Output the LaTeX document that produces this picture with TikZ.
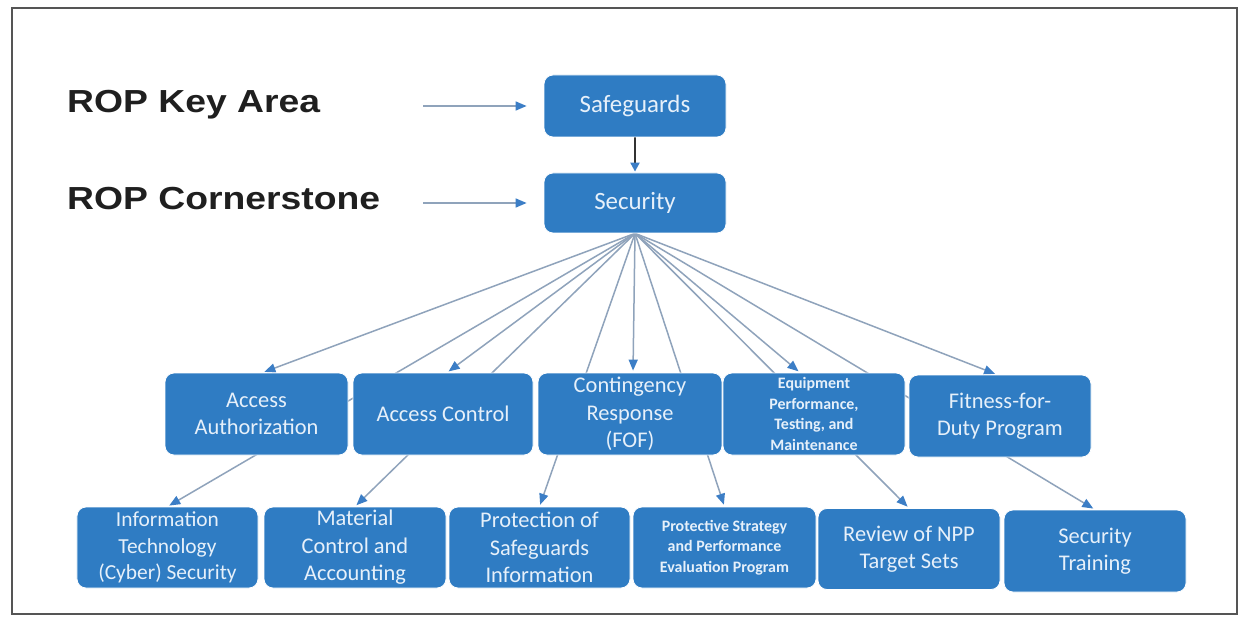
\documentclass[tikz,border=0pt]{standalone}
\usepackage{fontspec}
\usepackage{graphicx}
\usetikzlibrary{arrows.meta}
\newfontfamily\carlito{Carlito}
\newfontfamily\ropfont{Liberation Sans}
\definecolor{boxblue}{HTML}{2F7CC3}
\definecolor{boxtext}{HTML}{E6F0FA}
\definecolor{linkgrey}{HTML}{8FA3BB}
\definecolor{headblue}{HTML}{3C7EC6}
\definecolor{framegrey}{HTML}{555555}
\pgfdeclarelayer{background}
\pgfdeclarelayer{paper}
\pgfsetlayers{paper,background,main}
\tikzset{
  box/.style 2 args={rectangle, rounded corners=9bp, fill=boxblue, draw=white,
    line width=0.8bp, text=boxtext, align=center, inner sep=0pt,
    minimum width=#1, minimum height=#2,
    font=\carlito\fontsize{22.5}{27.5}\selectfont},
  smalltext/.style={font=\carlito\bfseries\fontsize{16}{20.5}\selectfont},
  toptext/.style={font=\carlito\fontsize{25}{30}\selectfont},
  roplabel/.style={anchor=base west, inner sep=0pt, text=black!88,
    font=\ropfont\bfseries\fontsize{32}{36}\selectfont},
  link/.style={draw=linkgrey, line width=1.5bp, shorten >=2bp,
    -{Triangle[length=11bp, width=9bp, color=headblue]}},
}
\begin{document}
\begin{tikzpicture}[x=1bp, y=-1bp]
  \begin{pgfonlayer}{paper}
    \fill[white] (0,0) rectangle (1239,617);
  \end{pgfonlayer}
  \useasboundingbox (0,0) rectangle (1239,617);
  \draw[framegrey, line width=1.5bp] (12,8) rectangle (1237,614);

  % key area and cornerstone
  \node[box={182bp}{62bp}, toptext] (safe) at (635,106) {Safeguards};
  \node[box={182bp}{60bp}, toptext] (sec) at (635,203) {Security};

  \node[roplabel] (lkey) at (67,113) {\scalebox{1.17}[1]{ROP Key Area}};
  \node[roplabel] (lcorner) at (67,210) {\scalebox{1.17}[1]{ROP Cornerstone}};
  \coordinate (kstart) at (423,106);
  \coordinate (cstart) at (423,203);

  % key areas, first row
  \node[box={183bp}{82bp}] (aa) at (256.5,414) {Access\\Authorization};
  \node[box={180bp}{82bp}] (ac) at (443,414) {Access Control};
  \node[box={184bp}{82bp}] (cr) at (630,414) {Contingency\\Response\\(FOF)};
  \node[box={182bp}{82bp}, smalltext] (ep) at (814,414) {Equipment\\Performance,\\Testing, and\\Maintenance};
  \node[box={182bp}{82bp}] (ff) at (1000,416) {Fitness-for-\\Duty Program};

  % key areas, second row
  \node[box={181bp}{81bp}, font=\carlito\fontsize{21.5}{26.5}\selectfont] (it) at (167.5,547.5) {Information\\Technology\\(Cyber) Security};
  \node[box={182bp}{81bp}] (mc) at (355,547.5) {Material\\Control and\\Accounting};
  \node[box={181bp}{81bp}] (ps) at (539.5,547.5) {Protection of\\Safeguards\\Information};
  \node[box={183bp}{81bp}, smalltext] (pse) at (724.5,547.5) {Protective Strategy\\and Performance\\Evaluation Program};
  \node[box={182bp}{81bp}] (rv) at (909,549) {Review of NPP\\Target Sets};
  \node[box={182bp}{82bp}] (st) at (1095,551) {Security\\Training};

  \begin{pgfonlayer}{background}
    \draw[link, shorten >=17bp] (kstart) -- (safe.west);
    \draw[link, shorten >=17bp] (cstart) -- (sec.west);
    \draw[draw=black!80, line width=2bp, shorten >=1bp,
      -{Triangle[length=9bp, width=9bp, color=headblue]}] (safe.south) -- (sec.north);
    % fan from the cornerstone to every key area
    \foreach \t in {it, mc, ps, pse, rv, st}
      \draw[link] (sec.south) -- (\t.north);
    \draw[link] (sec.south) -- ([xshift=6bp]aa.north);
    \draw[link] (sec.south) -- ([xshift=4bp]ac.north);
    \draw[link] (sec.south) -- ([xshift=3bp]cr.north);
    \draw[link] (sec.south) -- ([xshift=-14bp]ep.north);
    \draw[link] (sec.south) -- ([xshift=-3bp]ff.north);
  \end{pgfonlayer}
\end{tikzpicture}
\end{document}
